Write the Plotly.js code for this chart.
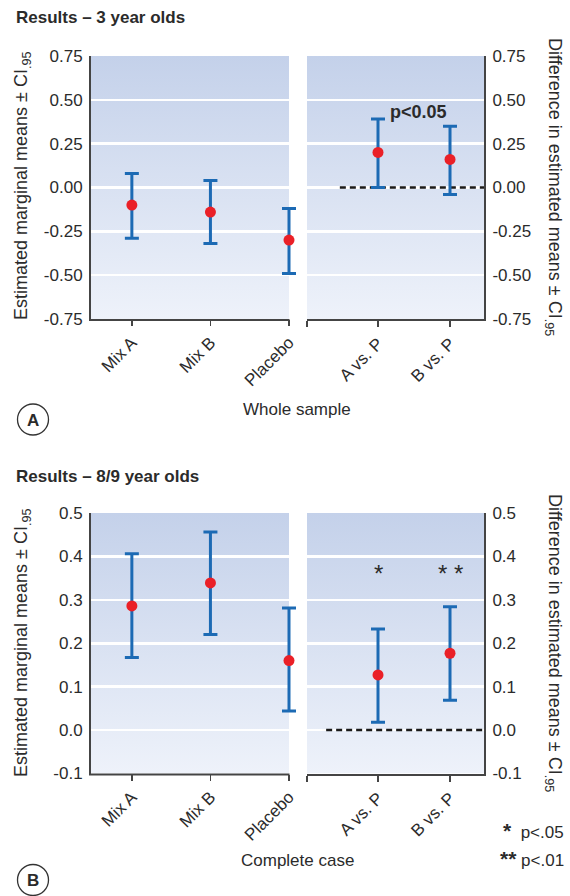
<!DOCTYPE html>
<html>
<head>
<meta charset="utf-8">
<script src="https://cdn.plot.ly/plotly-3.0.1.min.js"></script>
<style>
  html, body { margin: 0; padding: 0; background: #fff; }
  #chart { width: 570px; height: 896px; }
</style>
</head>
<body>
<div id="chart"></div>
<script>
// Group labels and contrast labels
const groupLabels = ['Mix A', 'Mix B', 'Placebo'];
const contrastLabels = ['A vs. P', 'B vs. P'];

// 3-year-olds: estimated marginal means with 95% CI
const means3 = [-0.10, -0.14, -0.30];
const lower3 = [-0.29, -0.32, -0.49];
const upper3 = [0.08, 0.04, -0.12];
// 3-year-olds: differences vs placebo with 95% CI
const diff3 = [0.20, 0.16];
const diffLower3 = [0.00, -0.04];
const diffUpper3 = [0.39, 0.35];

// 8/9-year-olds: estimated marginal means with 95% CI
const means89 = [0.286, 0.339, 0.160];
const lower89 = [0.167, 0.220, 0.044];
const upper89 = [0.406, 0.456, 0.281];
// 8/9-year-olds: differences vs placebo with 95% CI
const diff89 = [0.127, 0.177];
const diffLower89 = [0.018, 0.069];
const diffUpper89 = [0.233, 0.284];

// Y tick values and labels
const yTicks3 = [0.75, 0.5, 0.25, 0, -0.25, -0.5, -0.75];
const yTickText3 = ['0.75', '0.50', '0.25', '0.00', '-0.25', '-0.50', '-0.75'];
const yTicks89 = [0.5, 0.4, 0.3, 0.2, 0.1, 0.0, -0.1];
const yTickText89 = ['0.5', '0.4', '0.3', '0.2', '0.1', '0.0', '-0.1'];

// Significance marks
const sigMarks89 = ['*', '* *'];

// ---- styling / geometry ----
const W = 570, H = 896;
const px = x => x / W;
const py = y => 1 - y / H;
const FONT = 'Liberation Sans, Arial, Helvetica, sans-serif';
const TXT = '#2b2b2b';
const AXIS = '#444';
const BLUE = '#1c6ab4';
const RED = '#ea2027';

// plot-area pixel extents
const L0 = 91, L1 = 289, R0 = 307, R1 = 484;
const TOP_A = 56, BOT_A = 319, TOP_B = 513, BOT_B = 773.5;
const leftRange = [-0.52, 2];
const rightRange = [-0.986, 1.472];
// the left subplot runs a few px past its shaded area so the last cap is not clipped
const EXTRA = 12;
const leftScale = (leftRange[1] - leftRange[0]) / (L1 - L0);
const leftRangeWide = [leftRange[0], leftRange[1] + EXTRA * leftScale];
const shadeFrac = (L1 - L0) / (L1 + EXTRA - L0);

const idx = arr => arr.map((_, i) => i);

function ciTrace(vals, lo, hi, xa, ya) {
  return {
    type: 'scatter', mode: 'markers',
    x: idx(vals), y: vals, xaxis: xa, yaxis: ya,
    cliponaxis: false,
    marker: { color: RED, size: 11, line: { width: 0 } },
    error_y: {
      type: 'data', symmetric: false,
      array: hi.map((h, i) => h - vals[i]),
      arrayminus: lo.map((l, i) => vals[i] - l),
      color: BLUE, thickness: 3, width: 7
    },
    hoverinfo: 'skip', showlegend: false
  };
}

const data = [
  ciTrace(means3, lower3, upper3, 'x', 'y'),
  ciTrace(diff3, diffLower3, diffUpper3, 'x2', 'y2'),
  ciTrace(means89, lower89, upper89, 'x3', 'y3'),
  ciTrace(diff89, diffLower89, diffUpper89, 'x4', 'y4')
];

const tickFont = { family: FONT, size: 17, color: TXT };

function xAxisLeft(yId) {
  return {
    domain: [px(L0), px(L1 + EXTRA)], range: leftRangeWide, anchor: yId,
    tickmode: 'array', tickvals: idx(groupLabels), ticktext: groupLabels,
    tickangle: -45, tickfont: tickFont,
    ticks: 'outside', ticklen: 6, tickwidth: 1.5, tickcolor: AXIS,
    showline: false,
    showgrid: false, zeroline: false, fixedrange: true
  };
}
function xAxisRight(yId) {
  return {
    domain: [px(R0), px(R1)], range: rightRange, anchor: yId,
    tickmode: 'array', tickvals: [rightRange[0]].concat(idx(contrastLabels)),
    ticktext: [''].concat(contrastLabels),
    tickangle: -45, tickfont: tickFont,
    ticks: 'outside', ticklen: 6, tickwidth: 1.5, tickcolor: AXIS,
    showline: true, linecolor: AXIS, linewidth: 2,
    showgrid: false, zeroline: false, fixedrange: true
  };
}
function yAxis(xId, dom, range, tv, tt, side) {
  return {
    domain: dom, range: range, anchor: xId, side: side,
    tickmode: 'array', tickvals: tv, ticktext: tt, tickfont: tickFont,
    ticks: '', ticklabelstandoff: 3,
    showline: true, linecolor: AXIS, linewidth: 2,
    showgrid: true, gridcolor: '#ffffff', gridwidth: 2.5,
    zeroline: false, fixedrange: true
  };
}

const domA = [py(BOT_A), py(TOP_A)];
const domB = [py(BOT_B), py(TOP_B)];

// vertical gradient used as the plot-area background
const gradSvg = '<svg xmlns="http://www.w3.org/2000/svg" width="10" height="100" preserveAspectRatio="none">' +
  '<defs><linearGradient id="g" x1="0" y1="0" x2="0" y2="1">' +
  '<stop offset="0" stop-color="#c4d1ea"/><stop offset="1" stop-color="#eef2fa"/>' +
  '</linearGradient></defs><rect width="10" height="100" fill="url(#g)"/></svg>';
const gradSrc = 'data:image/svg+xml;charset=utf-8,' + encodeURIComponent(gradSvg);
const bgImage = (xa, ya, w) => ({
  source: gradSrc, xref: xa + ' domain', yref: ya + ' domain',
  x: 0, y: 1, sizex: w, sizey: 1, xanchor: 'left', yanchor: 'top',
  sizing: 'stretch', layer: 'below'
});

const ann = (text, x, y, extra) => Object.assign({
  text: text, x: x, y: y, xref: 'paper', yref: 'paper',
  xanchor: 'center', yanchor: 'middle',
  showarrow: false, font: { family: FONT, size: 17, color: TXT }
}, extra || {});
const titleFont = { family: FONT, size: 18, color: TXT };
const leftTitle = 'Estimated marginal means ± CI<sub>.95</sub>';
const rightTitle = 'Difference in estimated means ± CI<sub>.95</sub>';
const bigStar = s => '<span style="font-size:21px"><b>' + s + '</b></span>';

const annotations = [
  ann('<b>Results – 3 year olds</b>', px(14), py(17), { xanchor: 'left' }),
  ann('<b>Results – 8/9 year olds</b>', px(14), py(476), { xanchor: 'left' }),
  ann(leftTitle, px(22), py(186), { textangle: -90, font: titleFont }),
  ann(rightTitle, px(554), py(187), { textangle: 90, font: titleFont }),
  ann(leftTitle, px(22), py(643), { textangle: -90, font: titleFont }),
  ann(rightTitle, px(554), py(643), { textangle: 90, font: titleFont }),
  ann('Whole sample', px(297), py(409)),
  ann('Complete case', px(297), py(860)),
  ann('<b>A</b>', px(33), py(420)),
  ann('<b>B</b>', px(33), py(880)),
  {
    text: '<b>p&lt;0.05</b>', x: 0.14, y: 0.43, xref: 'x2', yref: 'y2',
    xanchor: 'left', yanchor: 'middle', showarrow: false,
    font: { family: FONT, size: 18, color: TXT }
  },
  ann(bigStar('*') + '  p&lt;.05', px(566), py(830), { xanchor: 'right' }),
  ann(bigStar('**') + ' p&lt;.01', px(566), py(858), { xanchor: 'right' })
];
sigMarks89.forEach((m, i) => annotations.push({
  text: m, x: i, y: 0.36, xref: 'x4', yref: 'y4',
  xanchor: 'center', yanchor: 'middle', showarrow: false,
  font: { family: FONT, size: 24, color: TXT }
}));

const zeroLine = (xa, ya, x0) => ({
  type: 'line', xref: xa, yref: ya, x0: x0, x1: rightRange[1], y0: 0, y1: 0,
  layer: 'between', line: { color: '#1a1a1a', width: 2.5, dash: '6px,4px' }
});
// bottom axis line of a left subplot, limited to its shaded width
const baseLine = yPix => ({
  type: 'line', xref: 'paper', yref: 'paper',
  x0: px(L0 - 2), x1: px(L1 + 0.5), y0: py(yPix + 1), y1: py(yPix + 1),
  line: { color: AXIS, width: 2 }
});
const circle = (cx, cy, r) => ({
  type: 'circle', xref: 'paper', yref: 'paper',
  x0: px(cx - r), x1: px(cx + r), y0: py(cy + r), y1: py(cy - r),
  line: { color: '#333', width: 1.3 }
});

const layout = {
  width: W, height: H,
  margin: { l: 0, r: 0, t: 0, b: 0 },
  paper_bgcolor: '#ffffff', plot_bgcolor: 'rgba(0,0,0,0)',
  font: { family: FONT, color: TXT },
  showlegend: false,
  xaxis: xAxisLeft('y'),
  yaxis: yAxis('x', domA, [-0.75, 0.75], yTicks3, yTickText3, 'left'),
  xaxis2: xAxisRight('y2'),
  yaxis2: yAxis('x2', domA, [-0.75, 0.75], yTicks3, yTickText3, 'right'),
  xaxis3: xAxisLeft('y3'),
  yaxis3: yAxis('x3', domB, [-0.1, 0.5], yTicks89, yTickText89, 'left'),
  xaxis4: xAxisRight('y4'),
  yaxis4: yAxis('x4', domB, [-0.1, 0.5], yTicks89, yTickText89, 'right'),
  images: [
    bgImage('x', 'y', shadeFrac), bgImage('x2', 'y2', 1),
    bgImage('x3', 'y3', shadeFrac), bgImage('x4', 'y4', 1)
  ],
  shapes: [
    zeroLine('x2', 'y2', -0.53),
    zeroLine('x4', 'y4', -0.72),
    baseLine(BOT_A),
    baseLine(BOT_B),
    circle(33, 419.5, 15.5),
    circle(33, 880, 15.5)
  ],
  annotations: annotations
};

Plotly.newPlot('chart', data, layout, { staticPlot: true, displayModeBar: false });
</script>
</body>
</html>
